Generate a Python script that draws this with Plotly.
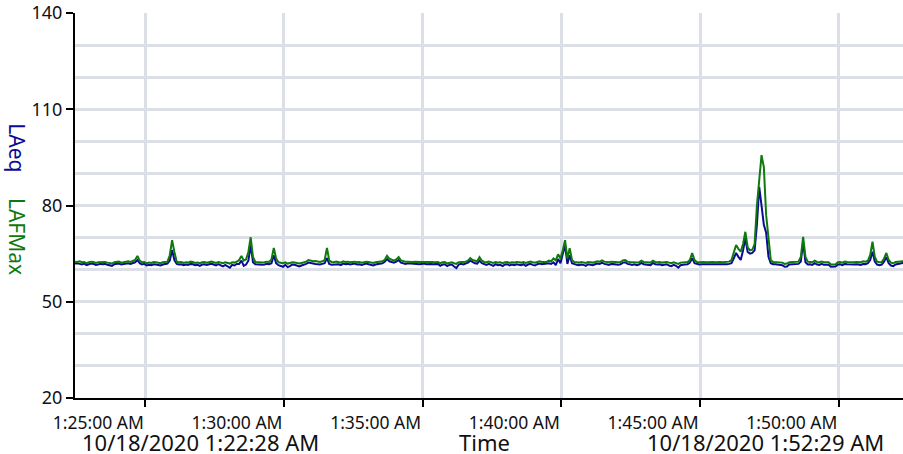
import pandas as pd
import plotly.graph_objects as go

start_time = "2020-10-18 01:22:28"
sample_seconds = 5

# LAFMax (green), one row = one minute of 5-second samples
lafmax = [
    62.5, 62.4, 62.6, 62.3, 62.4, 62.0, 62.3, 62.5, 62.4, 62.1, 62.3, 62.4,
    62.3, 62.4, 62.2, 62.0, 61.9, 62.3, 62.4, 62.5, 62.2, 62.3, 62.5, 62.6,
    62.4, 62.6, 63.0, 64.3, 62.8, 62.3, 62.4, 62.0, 62.2, 62.1, 62.4, 62.3,
    62.2, 62.0, 62.3, 62.4, 62.5, 64.5, 69.2, 65.5, 62.5, 62.3, 62.4, 62.1,
    62.3, 62.2, 62.5, 62.4, 62.1, 62.2, 62.0, 62.3, 62.4, 62.2, 62.3, 62.5,
    62.3, 62.1, 62.4, 62.2, 62.0, 62.3, 62.1, 61.9, 62.3, 62.2, 62.5, 63.0,
    64.3, 62.8, 63.2, 65.5, 70.1, 64.0, 62.4, 62.3, 62.4, 62.2, 62.3, 62.5,
    62.4, 63.2, 66.8, 63.5, 62.3, 62.2, 62.0, 62.3, 61.9, 62.1, 62.3, 62.2,
    62.0, 61.9, 62.1, 62.2, 62.5, 63.0, 62.8, 62.6, 62.7, 62.5, 62.4, 62.6,
    63.0, 66.8, 62.8, 62.4, 62.3, 62.5, 62.4, 62.2, 62.6, 62.4, 62.5, 62.3,
    62.4, 62.5, 62.3, 62.4, 62.2, 62.4, 62.5, 62.4, 62.3, 62.1, 62.3, 62.4,
    62.5, 62.6, 63.1, 64.3, 63.4, 63.2, 62.8, 63.2, 63.9, 62.9, 62.6, 62.5,
    62.5, 62.4, 62.4, 62.5, 62.4, 62.3, 62.4, 62.4, 62.3, 62.4, 62.4, 62.3,
    62.3, 62.4, 62.0, 62.3, 62.4, 61.9, 62.2, 62.3, 62.0, 61.8, 62.3, 62.4,
    62.3, 62.5, 62.8, 63.6, 63.0, 62.7, 62.6, 63.9, 62.8, 62.4, 62.3, 62.5,
    62.3, 62.1, 62.4, 62.2, 62.3, 62.0, 62.3, 62.4, 62.1, 62.3, 62.2, 62.4,
    62.3, 62.2, 62.4, 62.1, 62.3, 62.5, 62.3, 62.2, 62.4, 62.6, 62.4, 62.5,
    62.4, 62.8, 62.6, 63.5, 62.9, 64.8, 63.5, 66.0, 69.2, 63.5, 66.7, 63.0,
    62.4, 62.3, 62.2, 62.4, 62.3, 62.1, 62.4, 62.3, 62.2, 62.4, 62.6, 62.5,
    62.9, 62.5, 62.4, 62.3, 62.5, 62.4, 62.2, 62.3, 62.4, 62.9, 63.0, 62.5,
    62.4, 62.3, 62.4, 62.2, 62.3, 62.8, 62.4, 62.3, 62.4, 62.2, 62.8, 62.4,
    62.3, 62.4, 62.2, 62.3, 62.4, 62.2, 62.0, 62.3, 62.1, 61.8, 62.2, 62.3,
    62.3, 62.4, 63.0, 65.2, 63.0, 62.4, 62.3, 62.4, 62.4, 62.3, 62.4, 62.4,
    62.4, 62.3, 62.4, 62.4, 62.3, 62.4, 62.4, 62.5, 63.0, 65.5, 67.7, 66.5,
    65.6, 68.0, 71.8, 67.0, 66.0, 66.2, 68.0, 80.0, 88.0, 95.7, 92.0, 77.0,
    70.0, 63.0, 62.4, 62.4, 62.3, 62.4, 62.2, 61.8, 61.9, 62.3, 62.4, 62.4,
    62.4, 62.5, 64.0, 70.2, 64.0, 62.5, 62.4, 62.3, 62.8, 62.4, 62.3, 62.5,
    62.3, 62.4, 62.3, 61.6, 61.5, 61.6, 62.3, 62.4, 62.2, 62.5, 62.4, 62.3,
    62.4, 62.3, 62.4, 62.4, 62.3, 62.6, 62.5, 62.8, 64.5, 68.7, 64.0, 62.5,
    62.3, 62.4, 63.5, 65.2, 63.0, 62.2, 62.0, 62.4, 62.5, 62.6, 62.8, 62.7,
    62.6,
]

# LAeq (blue)
laeq = [
    61.9, 62.0, 61.8, 61.6, 61.9, 61.4, 61.7, 61.9, 61.8, 61.5, 61.6, 61.8,
    61.7, 61.8, 61.5, 61.3, 61.2, 61.7, 61.8, 61.9, 61.6, 61.7, 61.9, 62.0,
    61.8, 62.0, 62.3, 63.0, 62.0, 61.6, 61.8, 61.3, 61.5, 61.4, 61.7, 61.6,
    61.5, 61.3, 61.6, 61.8, 61.9, 62.8, 66.1, 63.0, 61.8, 61.6, 61.7, 61.4,
    61.6, 61.5, 61.8, 61.7, 61.4, 61.5, 61.2, 61.6, 61.7, 61.5, 61.6, 61.8,
    61.6, 61.3, 61.7, 61.4, 61.0, 61.5, 61.1, 60.6, 61.5, 61.3, 61.8, 61.8,
    62.8, 61.2, 61.6, 62.8, 67.7, 62.3, 61.7, 61.6, 61.7, 61.5, 61.6, 61.8,
    61.7, 62.0, 64.5, 62.0, 61.4, 61.2, 60.9, 61.5, 60.8, 61.1, 61.6, 61.5,
    61.2, 61.0, 61.3, 61.5, 61.8, 62.2, 62.0, 61.9, 61.8, 61.7, 61.6, 61.8,
    62.0, 63.6, 61.8, 61.5, 61.6, 61.8, 61.7, 61.4, 61.9, 61.7, 61.8, 61.6,
    61.8, 61.9, 61.6, 61.7, 61.5, 61.8, 61.9, 61.7, 61.6, 61.3, 61.6, 61.8,
    61.9, 62.0, 62.5, 63.3, 62.6, 62.5, 62.2, 62.5, 63.0, 62.2, 61.9, 61.8,
    62.0, 61.9, 61.8, 61.9, 61.8, 61.7, 61.8, 61.9, 61.7, 61.8, 61.8, 61.7,
    61.7, 61.8, 61.2, 61.6, 61.7, 61.1, 61.5, 61.6, 61.0, 60.5, 61.6, 61.8,
    61.6, 61.9, 62.2, 62.8, 62.3, 62.0, 61.9, 62.8, 62.0, 61.7, 61.5, 61.8,
    61.5, 61.2, 61.7, 61.4, 61.5, 61.1, 61.6, 61.7, 61.3, 61.6, 61.4, 61.7,
    61.5, 61.4, 61.7, 61.2, 61.6, 61.8, 61.5, 61.3, 61.7, 61.9, 61.7, 61.8,
    61.7, 62.0, 61.8, 62.3, 61.4, 63.3, 62.0, 64.5, 67.7, 61.8, 64.5, 62.0,
    61.7, 61.5, 61.4, 61.6, 61.5, 61.2, 61.7, 61.6, 61.4, 61.7, 61.9, 61.8,
    62.2, 61.8, 61.7, 61.5, 61.8, 61.7, 61.4, 61.5, 61.7, 62.2, 62.3, 61.8,
    61.7, 61.5, 61.7, 61.4, 61.6, 62.1, 61.7, 61.6, 61.7, 61.4, 62.1, 61.7,
    61.6, 61.7, 61.4, 61.5, 61.7, 61.3, 61.1, 61.5, 61.2, 60.6, 61.4, 61.5,
    61.6, 61.7, 62.2, 63.6, 62.0, 61.7, 61.6, 61.7, 61.7, 61.5, 61.7, 61.7,
    61.7, 61.6, 61.7, 61.7, 61.6, 61.7, 61.7, 61.8, 62.0, 63.5, 65.2, 64.0,
    63.0, 66.0, 69.8, 65.5, 65.0, 65.2, 66.0, 74.0, 85.8, 80.0, 74.0, 71.5,
    64.0, 62.0, 61.7, 61.7, 61.6, 61.7, 61.4, 60.9, 61.0, 61.6, 61.7, 61.7,
    61.7, 61.8, 62.5, 68.7, 62.3, 61.6, 61.7, 61.5, 62.0, 61.6, 61.5, 61.8,
    61.5, 61.6, 61.5, 60.9, 60.9, 61.0, 61.6, 61.7, 61.4, 61.8, 61.7, 61.6,
    61.7, 61.6, 61.7, 61.7, 61.5, 61.8, 61.7, 62.0, 63.0, 65.6, 62.5, 61.6,
    61.4, 61.6, 62.5, 63.9, 62.0, 61.3, 61.1, 61.6, 61.8, 62.0, 62.1, 62.0,
    62.0,
]

x_tick_values = ["2020-10-18 01:25:00", "2020-10-18 01:30:00", "2020-10-18 01:35:00",
                 "2020-10-18 01:40:00", "2020-10-18 01:45:00", "2020-10-18 01:50:00"]
x_tick_labels = ["1:25:00 AM", "1:30:00 AM", "1:35:00 AM", "1:40:00 AM", "1:45:00 AM", "1:50:00 AM"]
y_tick_values = [20, 50, 80, 110, 140]
start_label = "10/18/2020 1:22:28 AM"
end_label = "10/18/2020 1:52:29 AM"
x_axis_title = "Time"

times = pd.date_range(start_time, periods=len(lafmax), freq=f"{sample_seconds}s")

FONT = "Noto Sans"
GRID = "#DCDFE6"
BLUE = "#0A0A96"
GREEN = "#0E7A0E"
TEXT = "#111111"

fig = go.Figure()
fig.add_trace(go.Scatter(x=times, y=laeq, mode="lines", line=dict(color=BLUE, width=2), name="LAeq"))
fig.add_trace(go.Scatter(x=times, y=lafmax, mode="lines", line=dict(color=GREEN, width=2), name="LAFMax"))

fig.update_layout(
    width=903, height=454,
    margin=dict(l=75, r=0, t=13, b=56),
    paper_bgcolor="white", plot_bgcolor="white",
    showlegend=False,
    font=dict(family=FONT, color=TEXT, size=16),
)
fig.update_xaxes(
    range=["2020-10-18 01:22:28", "2020-10-18 01:52:19"],
    tickmode="array", tickvals=x_tick_values, ticktext=x_tick_labels,
    showgrid=True, gridcolor=GRID, gridwidth=3,
    showline=True, linecolor="black", linewidth=2,
    ticks="outside", ticklen=7, tickwidth=2, tickcolor="black",
    tickfont=dict(size=17.5, family=FONT, color=TEXT),
    ticklabelshift=-47, ticklabelstandoff=1,
    zeroline=False,
)
fig.update_yaxes(
    range=[20, 140],
    tickmode="array", tickvals=y_tick_values,
    showgrid=True, gridcolor=GRID, gridwidth=3,
    minor=dict(dtick=10, tick0=20, showgrid=True, gridcolor=GRID, gridwidth=3, ticks=""),
    showline=True, linecolor="black", linewidth=2,
    ticks="outside", ticklen=7, tickwidth=2, tickcolor="black",
    tickfont=dict(size=18, family=FONT, color=TEXT),
    zeroline=False,
)

fig.add_annotation(text=start_label, xref="paper", yref="paper", x=0.006, y=-0.113,
                   xanchor="left", yanchor="middle", showarrow=False,
                   font=dict(size=22, family=FONT, color=TEXT))
fig.add_annotation(text=x_axis_title, xref="paper", yref="paper", x=0.495, y=-0.113,
                   xanchor="center", yanchor="middle", showarrow=False,
                   font=dict(size=22, family=FONT, color=TEXT))
fig.add_annotation(text=end_label, xref="paper", yref="paper", x=0.9795, y=-0.113,
                   xanchor="right", yanchor="middle", showarrow=False,
                   font=dict(size=22, family=FONT, color=TEXT))
fig.add_annotation(text="LAeq", xref="paper", yref="paper", x=-0.070, y=0.651,
                   xanchor="center", yanchor="middle", showarrow=False, textangle=90,
                   font=dict(size=21, family=FONT, color=BLUE))
fig.add_annotation(text="LAFMax", xref="paper", yref="paper", x=-0.070, y=0.421,
                   xanchor="center", yanchor="middle", showarrow=False, textangle=90,
                   font=dict(size=21, family=FONT, color=GREEN))

fig.write_html("out.html", config={"displayModeBar": False},
               post_script="document.body.style.margin='0';")
